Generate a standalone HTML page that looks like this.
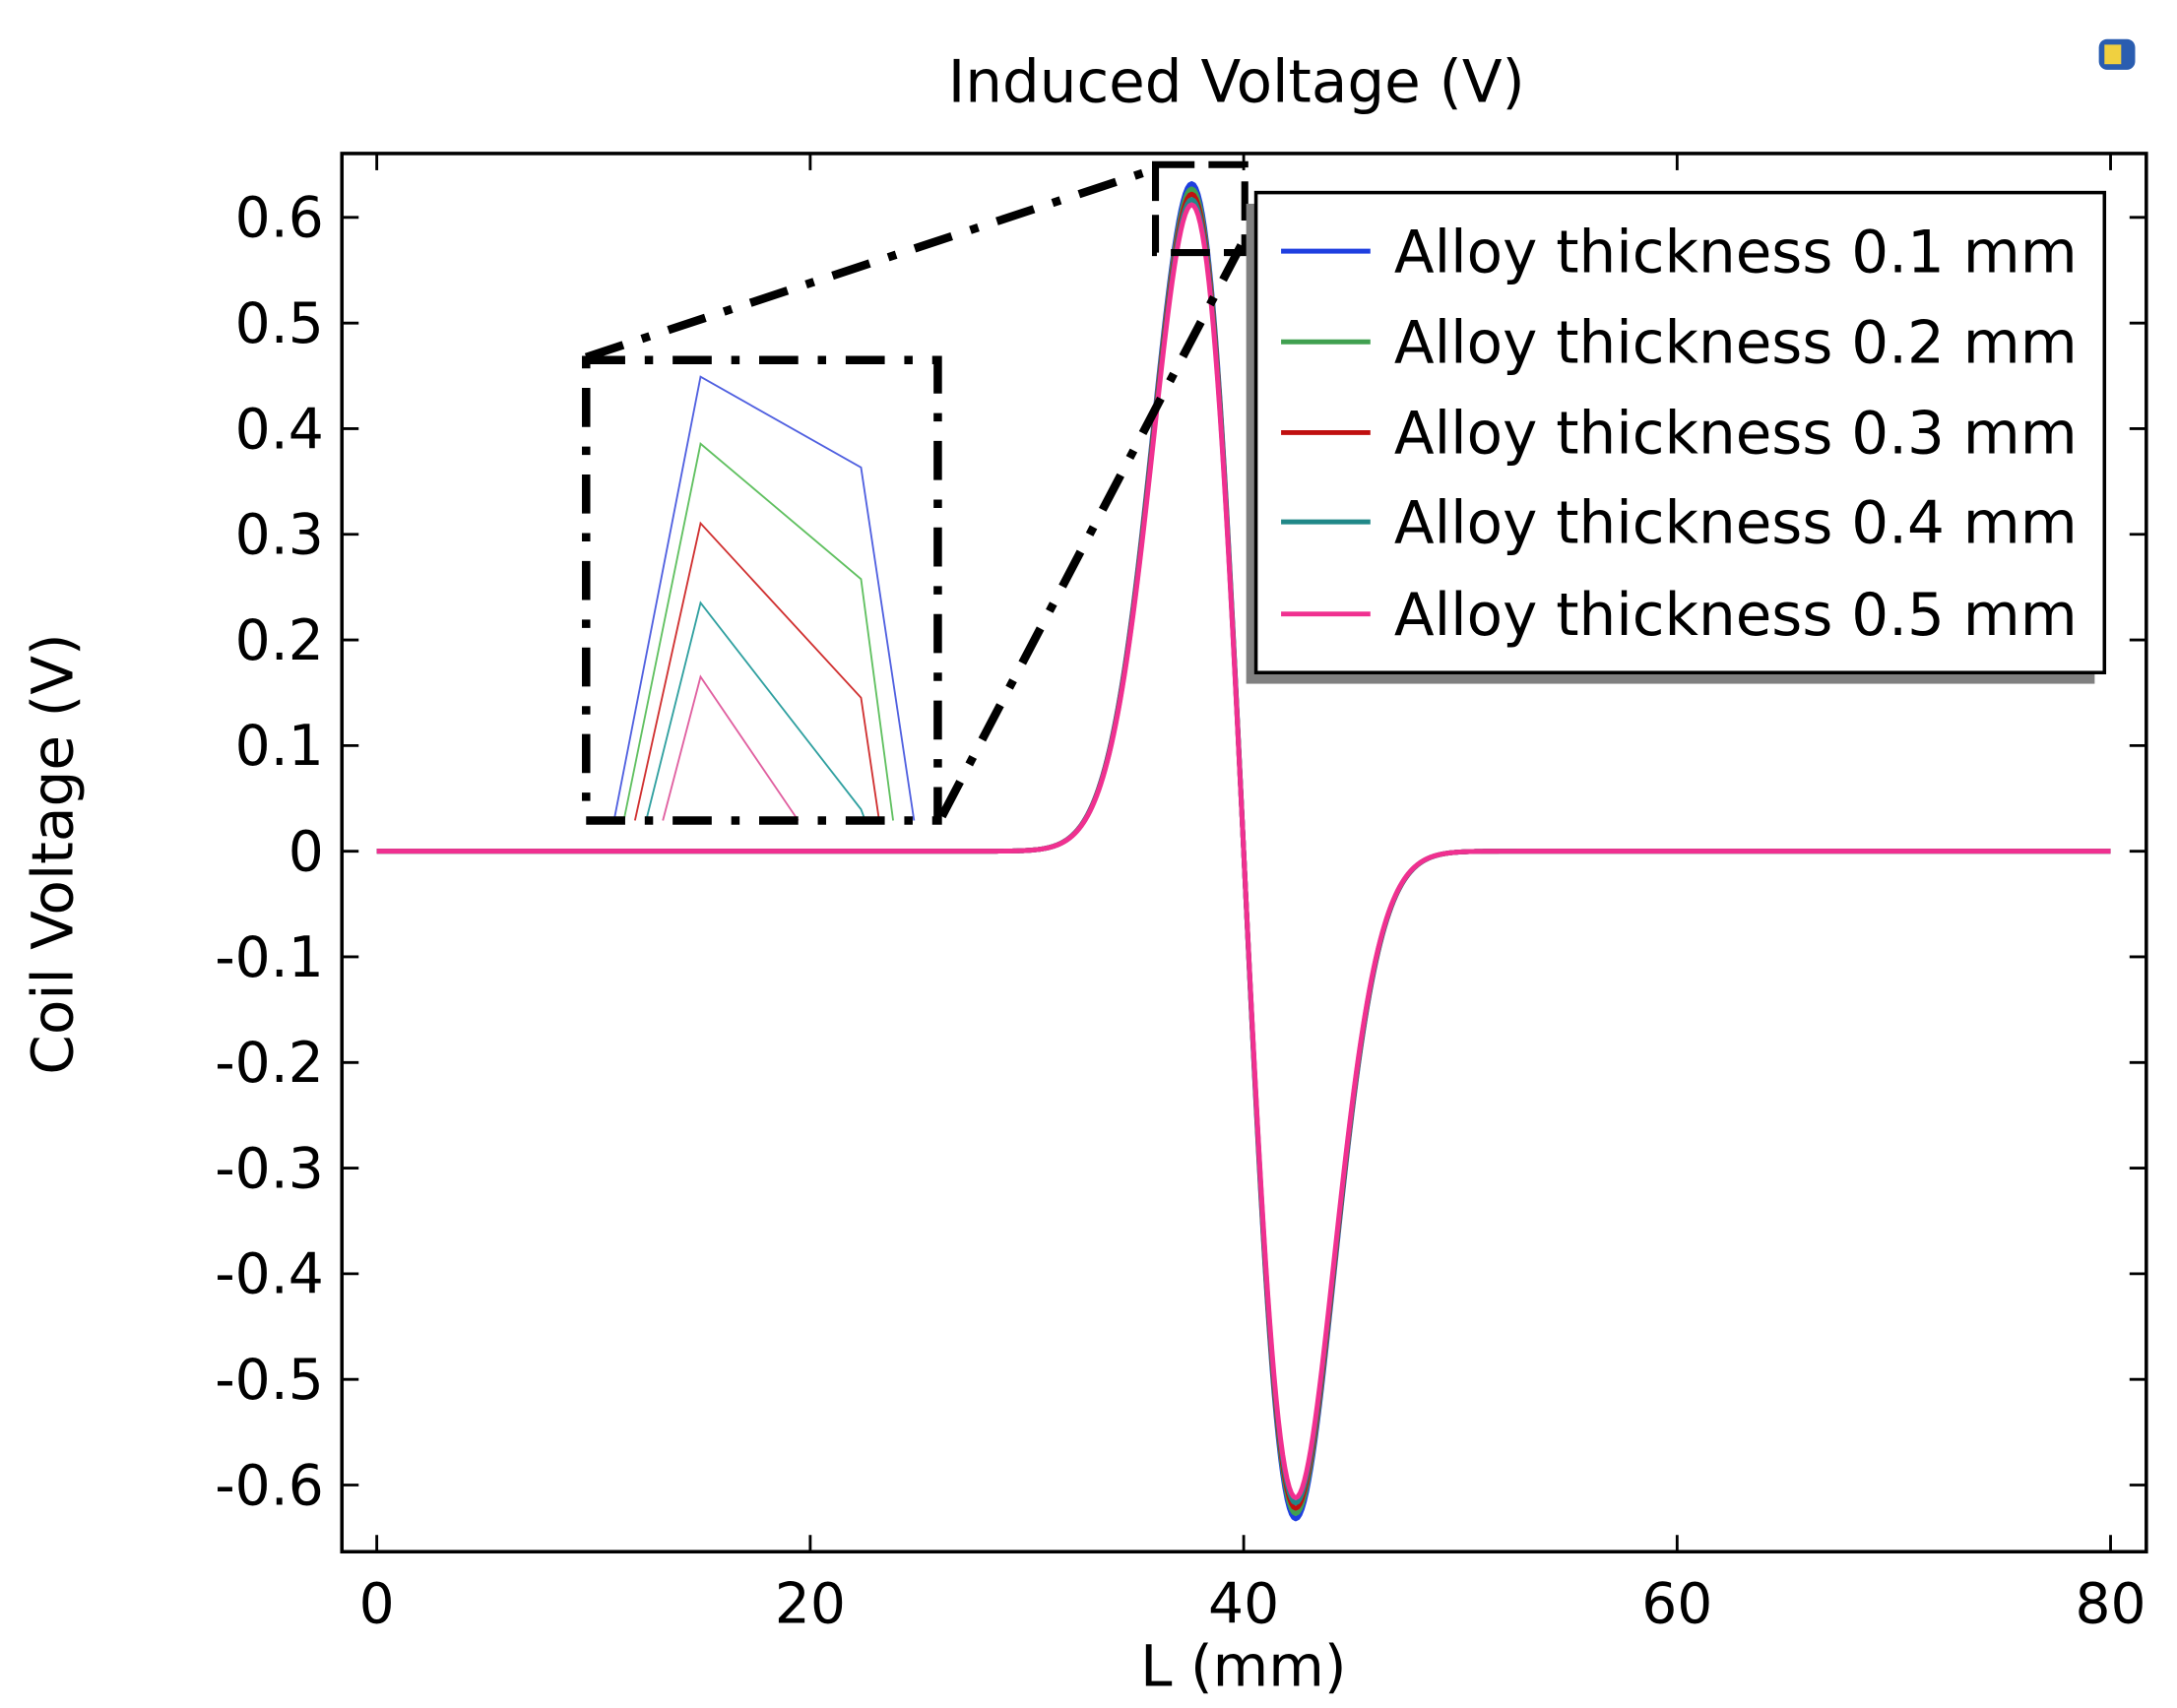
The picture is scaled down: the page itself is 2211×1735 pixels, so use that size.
<!DOCTYPE html>
<html><head><meta charset="utf-8"><style>
html,body{margin:0;padding:0;background:#fff;}
svg{display:block;}
text{font-family:"DejaVu Sans","Liberation Sans",sans-serif;fill:#000;}
</style></head><body>
<svg id="s" width="2211" height="1735" viewBox="0 0 1560 1224" preserveAspectRatio="none" xmlns="http://www.w3.org/2000/svg">
<rect width="1560" height="1224" fill="#fff"/>
<text x="886" y="73" font-size="42" text-anchor="middle">Induced Voltage (V)</text>
<rect x="1504" y="28" width="26" height="22" rx="6" fill="#2a5db0"/>
<rect x="1508" y="32" width="12" height="14" fill="#f0d040"/>
<rect x="245" y="110" width="1293" height="1002" fill="none" stroke="#000" stroke-width="2.5"/>
<g id="ticks" stroke="#000" stroke-width="2"></g>
<g id="labels" font-size="40"></g>
<text x="891" y="1208" font-size="41" text-anchor="middle">L (mm)</text>
<text transform="translate(52,612) rotate(-90)" font-size="41" text-anchor="middle">Coil Voltage (V)</text>
<g id="curves" fill="none" stroke-width="3.5" stroke-linejoin="round"></g>
<g fill="none" stroke-width="1.3">
<polyline points="440,588 502,270 617,335 655,588" stroke="#5060e0"/>
<polyline points="447,588 502,318 617,415 640,588" stroke="#60c060"/>
<polyline points="455,588 502,375 617,500 630,588" stroke="#d03030"/>
<polyline points="463,588 502,432 617,580 620,588" stroke="#30a0a0"/>
<polyline points="475,588 502,485 572,588" stroke="#e060a0"/>
</g>
<g fill="none" stroke="#000" stroke-width="6" stroke-dasharray="28,14,6,14">
<rect x="420" y="258" width="252" height="330"/>
<line x1="420" y1="256" x2="825" y2="122"/>
<line x1="675" y1="585" x2="895" y2="165"/>
</g>
<g fill="none" stroke="#000" stroke-width="5" stroke-dasharray="28,10">
<rect x="828" y="118" width="64" height="63"/>
</g>
<rect x="893" y="146" width="608" height="344" fill="#808080"/>
<rect x="900" y="138" width="608" height="344" fill="#fff" stroke="#000" stroke-width="2.5"/>
<g stroke-width="3.5">
<line x1="918" y1="180" x2="982" y2="180" stroke="#1f3fe0"/>
<line x1="918" y1="245" x2="982" y2="245" stroke="#40a050"/>
<line x1="918" y1="310" x2="982" y2="310" stroke="#c01010"/>
<line x1="918" y1="374" x2="982" y2="374" stroke="#208888"/>
<line x1="918" y1="440" x2="982" y2="440" stroke="#f03090"/>
</g>
<g font-size="42">
<text x="999" y="195">Alloy thickness 0.1 mm</text>
<text x="999" y="260">Alloy thickness 0.2 mm</text>
<text x="999" y="325">Alloy thickness 0.3 mm</text>
<text x="999" y="389">Alloy thickness 0.4 mm</text>
<text x="999" y="455">Alloy thickness 0.5 mm</text>
</g>
</svg>
<script>
var NS="http://www.w3.org/2000/svg";
function X(v){return 270+v*15.53;}
function Y(v){return 610-v*757;}
function el(p,t,a,txt){var e=document.createElementNS(NS,t);for(var k in a)e.setAttribute(k,a[k]);if(txt!=null)e.textContent=txt;p.appendChild(e);return e;}
var tk=document.getElementById('ticks'),lb=document.getElementById('labels');
[0,20,40,60,80].forEach(function(v){var x=X(v);
 el(tk,'line',{x1:x,y1:1112,x2:x,y2:1100});el(tk,'line',{x1:x,y1:110,x2:x,y2:122});
 el(lb,'text',{x:x,y:1163,'text-anchor':'middle'},String(v));});
for(var i=-6;i<=6;i++){var v=i/10,y=Y(v);
 el(tk,'line',{x1:245,y1:y,x2:257,y2:y});el(tk,'line',{x1:1538,y1:y,x2:1526,y2:y});
 var s=i==0?'0':(i<0?'-':'')+'0.'+Math.abs(i);
 el(lb,'text',{x:232,y:y+14,'text-anchor':'end'},s);}
var cv=document.getElementById('curves');
var cols=['#1f3fe0','#40a050','#c01010','#208888','#f03090'],amps=[0.632,0.627,0.622,0.617,0.612];
var sg=2.4,c=40;
for(var k=0;k<5;k++){var A=amps[k]/Math.exp(-0.5),d='';
 for(var x=0;x<=80.001;x+=0.1){var u=(x-c)/sg;var v=-A*u*Math.exp(-u*u/2);
  d+=(x==0?'M':'L')+X(x).toFixed(2)+','+Y(v).toFixed(2)+' ';}
 el(cv,'path',{d:d,stroke:cols[k]});}
</script>
</body></html>
